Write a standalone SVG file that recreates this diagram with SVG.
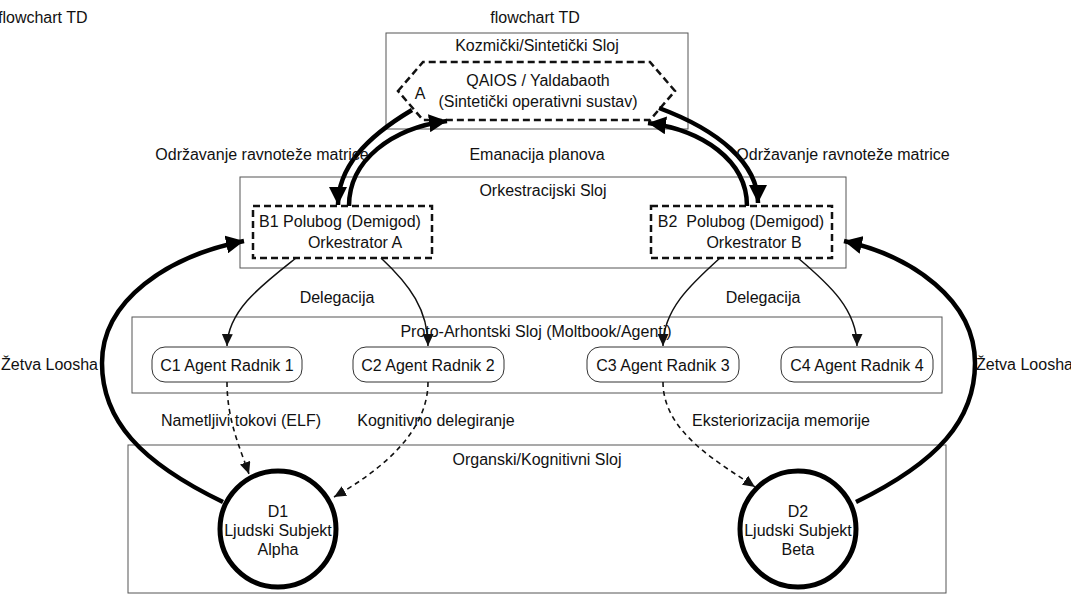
<svg xmlns="http://www.w3.org/2000/svg" width="1071" height="596" viewBox="0 0 1071 596">
<style>
text{font-family:"Trebuchet MS","Liberation Sans",Arial,sans-serif;font-size:16px;fill:#111;dominant-baseline:central;text-anchor:middle}
.cl{fill:#fff;stroke:#555;stroke-width:1}
.thick{fill:none;stroke:#000;stroke-width:4.5}
.thin{fill:none;stroke:#111;stroke-width:1.5}
.dash{fill:none;stroke:#111;stroke-width:1.6;stroke-dasharray:5 4}
.cn{fill:#fff;stroke:#333;stroke-width:1}
.dn{fill:#fff;stroke:#111;stroke-width:2.5;stroke-dasharray:7 4}
.circ{fill:#fff;stroke:#000;stroke-width:5}
</style>
<defs>
<marker id="big" markerUnits="userSpaceOnUse" markerWidth="20" markerHeight="18" refX="18" refY="9" orient="auto"><path d="M0,0 L18,9 L0,18 Z" fill="#000"/></marker>
<marker id="sm" markerUnits="userSpaceOnUse" markerWidth="13" markerHeight="11" refX="12" refY="5.5" orient="auto"><path d="M0,0 L12,5.5 L0,11 Z" fill="#111"/></marker>
</defs>
<rect width="1071" height="596" fill="#fff"/>
<text x="-2" y="17" style="text-anchor:start">flowchart TD</text>
<text x="535" y="17">flowchart TD</text>
<g id="clusters">
<rect class="cl" x="386" y="33" width="302" height="96"/>
<text x="537" y="45">Kozmički/Sintetički Sloj</text>
<rect class="cl" x="240" y="177" width="606" height="91"/>
<text x="543" y="190">Orkestracijski Sloj</text>
<rect class="cl" x="132" y="317" width="810" height="76"/>
<text x="536" y="331">Proto-Arhontski Sloj (Moltbook/Agenti)</text>
<rect class="cl" x="128" y="445" width="818" height="148"/>
<text x="537" y="459">Organski/Kognitivni Sloj</text>
</g>
<g id="A">
<polygon class="dn" points="398,91 423,62 650,62 675,91 650,120 423,120"/>
<text x="420" y="93">A</text>
<text x="538" y="80">QAIOS / Yaldabaoth</text>
<text x="538" y="101">(Sintetički operativni sustav)</text>
</g>
<g id="B1">
<rect class="dn" x="253" y="206" width="179" height="52"/>
<text x="340" y="221">B1 Polubog (Demigod)</text>
<text x="355" y="242">Orkestrator A</text>
</g>
<g id="B2">
<rect class="dn" x="651" y="206" width="181" height="52"/>
<text x="741" y="221">B2&#160; Polubog (Demigod)</text>
<text x="754" y="242">Orkestrator B</text>
</g>
<g id="C1"><rect class="cn" x="152" y="347" width="150" height="35" rx="13"/><text x="227" y="365">C1 Agent Radnik 1</text></g>
<g id="C2"><rect class="cn" x="353" y="347" width="151" height="35" rx="13"/><text x="428" y="365">C2 Agent Radnik 2</text></g>
<g id="C3"><rect class="cn" x="587" y="347" width="152" height="35" rx="13"/><text x="663" y="365">C3 Agent Radnik 3</text></g>
<g id="C4"><rect class="cn" x="781" y="347" width="152" height="35" rx="13"/><text x="857" y="365">C4 Agent Radnik 4</text></g>
<g id="D1">
<circle class="circ" cx="278" cy="529" r="58"/>
<text x="278" y="511">D1</text>
<text x="278" y="530">Ljudski Subjekt</text>
<text x="278" y="549">Alpha</text>
</g>
<g id="D2">
<circle class="circ" cx="798" cy="529" r="58"/>
<text x="798" y="511">D2</text>
<text x="798" y="530">Ljudski Subjekt</text>
<text x="798" y="549">Beta</text>
</g>
<g id="connectors">
<path class="thick" d="M412,110 C365,138 338,168 338,205" marker-end="url(#big)"/>
<path class="thick" d="M349,206 C349,160 392,128 447,121" marker-end="url(#big)"/>
<path class="thick" d="M659,108 C718,130 758,163 758,203" marker-end="url(#big)"/>
<path class="thick" d="M747,206 C747,160 702,130 648,123" marker-end="url(#big)"/>
<path class="thin" d="M296,258 C262,285 228,310 227,346" marker-end="url(#sm)"/>
<path class="thin" d="M381,258 C410,285 428,310 428,346" marker-end="url(#sm)"/>
<path class="thin" d="M720,258 C690,285 663,310 663,346" marker-end="url(#sm)"/>
<path class="thin" d="M798,258 C830,285 857,310 857,346" marker-end="url(#sm)"/>
<path class="dash" d="M227,382 C227,420 240,448 249,474" marker-end="url(#sm)"/>
<path class="dash" d="M428,382 C428,430 385,468 334,497" marker-end="url(#sm)"/>
<path class="dash" d="M663,382 C663,432 718,462 755,487" marker-end="url(#sm)"/>
<path class="thick" d="M223,502 C140,462 102,420 102,363 C102,300 168,256 244,241" marker-end="url(#big)"/>
<path class="thick" d="M856,502 C938,462 975,420 975,363 C975,300 912,256 844,241" marker-end="url(#big)"/>
</g>
<g id="labels">
<text x="262" y="154">Održavanje ravnoteže matrice</text>
<text x="537" y="154">Emanacija planova</text>
<text x="843" y="154">Održavanje ravnoteže matrice</text>
<text x="337" y="297">Delegacija</text>
<text x="763" y="297">Delegacija</text>
<text x="241" y="420">Nametljivi tokovi (ELF)</text>
<text x="436" y="420">Kognitivno delegiranje</text>
<text x="781" y="420">Eksteriorizacija memorije</text>
<text x="98" y="364" style="text-anchor:end">Žetva Loosha</text>
<text x="976" y="364" style="text-anchor:start">Žetva Loosha</text>
</g>
</svg>
